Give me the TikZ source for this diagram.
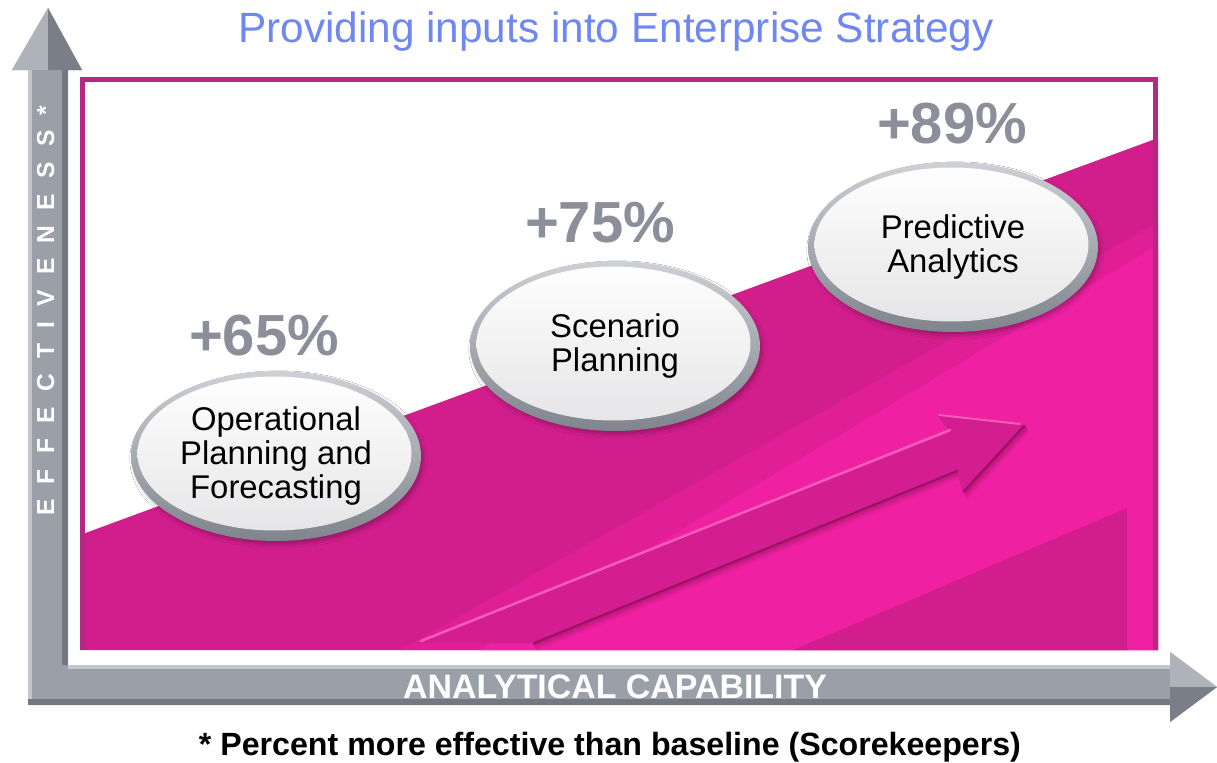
\documentclass[tikz,border=0pt]{standalone}
\usepackage{fontspec}
\setmainfont{Liberation Sans}
\usetikzlibrary{shapes.geometric,shadows.blur}
\definecolor{axgray}{HTML}{9A9FA8}
\definecolor{axlight}{HTML}{AEB2B9}
\definecolor{axdark}{HTML}{737881}
\definecolor{axedge}{HTML}{C3C7CD}
\definecolor{magdark}{HTML}{D21E8C}
\definecolor{magmid}{HTML}{E01F97}
\definecolor{maglight}{HTML}{EF21A2}
\definecolor{framecol}{HTML}{B42A80}
\definecolor{arrowmag}{HTML}{D41D90}
\definecolor{maghigh}{HTML}{F35CB9}
\definecolor{magshadow}{HTML}{8E0F5A}
\definecolor{rimtop}{HTML}{CDD0D5}
\definecolor{rimbot}{HTML}{7F848D}
\definecolor{ovalbot}{HTML}{E4E4E6}
\definecolor{pctgray}{HTML}{8B8F99}
\definecolor{titleblue}{HTML}{6E87F2}
\begin{document}
\begin{tikzpicture}[x=0.02cm,y=-0.02cm,
  oval/.style={ellipse, minimum width=5.8cm, minimum height=3.4cm, inner sep=0pt,
    top color=rimtop, bottom color=rimbot, align=center,
    font=\fontsize{18.7}{19.6}\selectfont, text=black,
    blur shadow={shadow xshift=0.05cm, shadow yshift=-0.07cm, shadow opacity=25},
    path picture={\shade[top color=white, bottom color=ovalbot]
      ([xshift=-0.03cm,yshift=0.05cm]path picture bounding box.center)
      ellipse [x radius=2.74cm, y radius=1.54cm];}},
  pct/.style={anchor=base, inner sep=0pt, text=pctgray,
    font=\bfseries\fontsize{33}{33}\selectfont},
]
\useasboundingbox (0,0) rectangle (1217,762);
\fill[white] (0,0) rectangle (1217,762);

% axes
\fill[axgray] (28,705) -- (1170,705) -- (1170,722) -- (1217,687) -- (1170,652)
  -- (1170,665) -- (68,665) -- (68,70) -- (82,70) -- (48,8) -- (12,70) -- (28,70) -- cycle;
\fill[axedge] (28,70) rectangle (32,705);
\fill[axdark] (62,70) rectangle (68,665);
\fill[axedge] (68,665) rectangle (1170,669);
\fill[axdark] (28,699) rectangle (1170,705);
\fill[axlight] (12,70) -- (48,8) -- (48,70) -- cycle;
\fill[axdark!85!axgray] (48,8) -- (82,70) -- (48,70) -- cycle;
\fill[axlight] (1170,652) -- (1217,687) -- (1170,687) -- cycle;
\fill[axdark!85!axgray] (1170,687) -- (1217,687) -- (1170,722) -- cycle;

% chart area
\begin{scope}
  \clip (80,77) rectangle (1158,650);
  \fill[white] (80,77) rectangle (1158,650);
  \fill[magdark] (80,535) -- (1158,138) -- (1158,650) -- (80,650) -- cycle;
  \fill[magmid] (400,650) -- (1158,222) -- (1158,650) -- cycle;
  \fill[maglight] (480,650) -- (1158,245) -- (1158,650) -- cycle;
  \fill[magdark] (793,650) -- (1127,508) -- (1127,650) -- cycle;
  % rising arrow
  \foreach \o/\a in {8/0.10,6/0.15,4/0.2,2/0.3}{
    \fill[magshadow, opacity=\a] (533,643) -- (957,470) -- (963,492) -- (1025,425)
      -- ([shift={(0.5*\o,\o)}]1025,425) -- ([shift={(0.5*\o,\o)}]963,492)
      -- ([shift={(0.5*\o,\o)}]957,470) -- ([shift={(0.5*\o,\o)}]533,643) -- cycle;
  }
  \fill[arrowmag] (418,643) -- (950,432) -- (937,415) -- (1025,425) -- (963,492)
    -- (957,470) -- (533,643) -- cycle;
  \draw[maghigh, line width=0.05cm, line cap=round] (421,641) -- (950,430);
  \draw[maghigh, line width=0.04cm, line cap=round] (939,415) -- (1020,424);
  \draw[magshadow!80!arrowmag, line width=0.04cm, line cap=round] (534,643) -- (957,471);
  \draw[magshadow!80!arrowmag, line width=0.04cm, line cap=round] (964,491) -- (1024,426);
\end{scope}
\draw[framecol, line width=0.1cm] (82.5,650) -- (82.5,79.5) -- (1155.5,79.5) -- (1155.5,650);

% ovals
\node[oval] (op) at (276,456) {Operational\\Planning and\\Forecasting};
\node[oval] (sc) at (615,346) {Scenario\\Planning};
\node[oval] (pa) at (953,247) {Predictive\\Analytics};

% percentages
\node[pct] (p65) at (264,355) {+65\%};
\node[pct] (p75) at (600,242) {+75\%};
\node[pct] (p89) at (952,143) {+89\%};

% texts
\node[anchor=base, inner sep=0pt, text=titleblue, font=\fontsize{24.1}{28}\selectfont]
  (title) at (616,42) {Providing inputs into Enterprise Strategy};
\node[anchor=base, inner sep=0pt, text=white, font=\bfseries\fontsize{19.3}{20}\selectfont]
  (xlab) at (615,698) {ANALYTICAL CAPABILITY};
\node[rotate=90, anchor=base west, inner sep=0pt, text=white,
  font=\bfseries\fontsize{14}{14}\selectfont\addfontfeature{LetterSpace=62}]
  (ylab) at (54,516) {EFFECTIVENESS*};
\node[anchor=base, inner sep=0pt, font=\bfseries\fontsize{18.3}{20}\selectfont]
  (note) at (610,755) {* Percent more effective than baseline (Scorekeepers)};
\end{tikzpicture}
\end{document}
